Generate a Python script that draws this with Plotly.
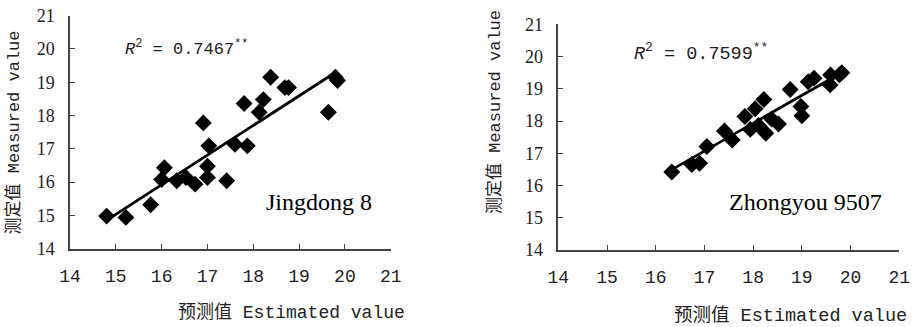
import plotly.graph_objects as go

# Jingdong 8
jd_est = [14.80, 15.22, 15.76, 16.00, 16.06, 16.33, 16.53, 16.73, 16.91, 17.00, 17.00, 17.03,
          17.42, 17.60, 17.87, 17.80, 18.13, 18.22, 18.38, 18.69, 18.77, 19.64, 19.79, 19.84]
jd_meas = [14.98, 14.94, 15.32, 16.08, 16.43, 16.04, 16.14, 15.94, 17.78, 16.14, 16.48, 17.09,
           16.04, 17.14, 17.09, 18.36, 18.10, 18.48, 19.15, 18.84, 18.84, 18.10, 19.15, 19.05]
jd_fit_x = [14.84, 19.84]
jd_fit_y = [14.89, 19.34]

# Zhongyou 9507
zy_est = [16.33, 16.74, 16.90, 17.05, 17.41, 17.57, 17.83, 17.94, 18.04, 18.11, 18.22, 18.26,
          18.38, 18.52, 18.76, 18.98, 19.00, 19.13, 19.25, 19.58, 19.59, 19.77, 19.82]
zy_meas = [16.42, 16.65, 16.69, 17.21, 17.69, 17.41, 18.14, 17.74, 18.38, 17.86, 18.67, 17.62,
           18.06, 17.91, 18.98, 18.45, 18.16, 19.22, 19.33, 19.12, 19.43, 19.43, 19.50]
zy_fit_x = [16.26, 19.85]
zy_fit_y = [16.43, 19.53]

ticks = [14, 15, 16, 17, 18, 19, 20, 21]
tick_text = [str(t) for t in ticks]

W, H = 920, 327
MONO = "Liberation Mono"
SERIF = "Liberation Serif"
CJKMONO = "Liberation Mono, Noto Sans CJK SC"

fig = go.Figure()

marker = dict(symbol="diamond", size=13, color="black")
fig.add_trace(go.Scatter(x=jd_est, y=jd_meas, mode="markers", marker=marker,
                         xaxis="x", yaxis="y", showlegend=False, cliponaxis=False))
fig.add_trace(go.Scatter(x=jd_fit_x, y=jd_fit_y, mode="lines", line=dict(color="black", width=2.8),
                         xaxis="x", yaxis="y", showlegend=False))
fig.add_trace(go.Scatter(x=zy_est, y=zy_meas, mode="markers", marker=marker,
                         xaxis="x2", yaxis="y2", showlegend=False, cliponaxis=False))
fig.add_trace(go.Scatter(x=zy_fit_x, y=zy_fit_y, mode="lines", line=dict(color="black", width=2.8),
                         xaxis="x2", yaxis="y2", showlegend=False))

def xaxis(domain, anchor):
    return dict(domain=domain, anchor=anchor, range=[14, 21], tickmode="array",
                tickvals=ticks, ticktext=tick_text,
                showline=True, linecolor="#444", linewidth=1.5, mirror=False,
                ticks="inside", ticklen=5, tickcolor="#444", tickwidth=1.2,
                showgrid=False, zeroline=False, automargin=False,
                tickfont=dict(family=MONO, size=18, color="#222"), ticklabelstandoff=10)

def yaxis(domain, anchor):
    return dict(domain=domain, anchor=anchor, range=[14, 21], tickmode="array",
                tickvals=ticks, ticktext=tick_text,
                showline=True, linecolor="#444", linewidth=1.5, mirror=False,
                ticks="inside", ticklen=5, tickcolor="#444", tickwidth=1.2,
                showgrid=False, zeroline=False, automargin=False,
                tickfont=dict(family=SERIF, size=18, color="#222"), ticklabelstandoff=10)

fig.update_layout(
    template="simple_white",
    width=W, height=H, margin=dict(l=0, r=0, t=0, b=0, autoexpand=False),
    plot_bgcolor="white", paper_bgcolor="white",
    xaxis=xaxis([70 / W, 390.7 / W], "y"),
    yaxis=yaxis([1 - 248.7 / H, 1 - 15.7 / H], "x"),
    xaxis2=xaxis([558.3 / W, 899.3 / W], "y2"),
    yaxis2=yaxis([1 - 250 / H, 1 - 24.3 / H], "x2"),
)

ann = []
# R^2 labels
ann.append(dict(x=15.16, y=20.03, xref="x", yref="y", xanchor="left", yanchor="middle",
                text="<i>R</i><sup>2</sup> = 0.7467<sup>**</sup>", showarrow=False,
                font=dict(family=MONO, size=17, color="#222")))
ann.append(dict(x=15.51, y=20.12, xref="x2", yref="y2", xanchor="left", yanchor="middle",
                text="<i>R</i><sup>2</sup> = 0.7599<sup>**</sup>", showarrow=False,
                font=dict(family=MONO, size=18.5, color="#222")))
# cultivar labels
ann.append(dict(x=19.43, y=15.40, xref="x", yref="y", text="Jingdong 8", showarrow=False,
                xanchor="center", yanchor="middle",
                font=dict(family=SERIF, size=24, color="black")))
ann.append(dict(x=19.08, y=15.49, xref="x2", yref="y2", text="Zhongyou 9507", showarrow=False,
                xanchor="center", yanchor="middle",
                font=dict(family=SERIF, size=24, color="black")))
# axis titles
ann.append(dict(x=291.5 / W, y=1 - 312 / H, xref="paper", yref="paper", text="预测值 Estimated value",
                xanchor="center", yanchor="middle", showarrow=False,
                font=dict(family=CJKMONO, size=18, color="#222")))
ann.append(dict(x=790 / W, y=1 - 316 / H, xref="paper", yref="paper", text="预测值 Estimated value",
                xanchor="center", yanchor="middle", showarrow=False,
                font=dict(family=CJKMONO, size=18.5, color="#222")))
ann.append(dict(x=13 / W, y=1 - 132.5 / H, xref="paper", yref="paper", text="测定值 Measured value",
                xanchor="center", yanchor="middle", textangle=-90, showarrow=False,
                font=dict(family=CJKMONO, size=17, color="#222")))
ann.append(dict(x=495 / W, y=1 - 112 / H, xref="paper", yref="paper", text="测定值 Measured value",
                xanchor="center", yanchor="middle", textangle=-90, showarrow=False,
                font=dict(family=CJKMONO, size=17, color="#222")))
fig.update_layout(annotations=ann)

fig.write_html("out.html", config={"displayModeBar": False},
               post_script="document.body.style.margin='0';document.body.style.padding='0';")
